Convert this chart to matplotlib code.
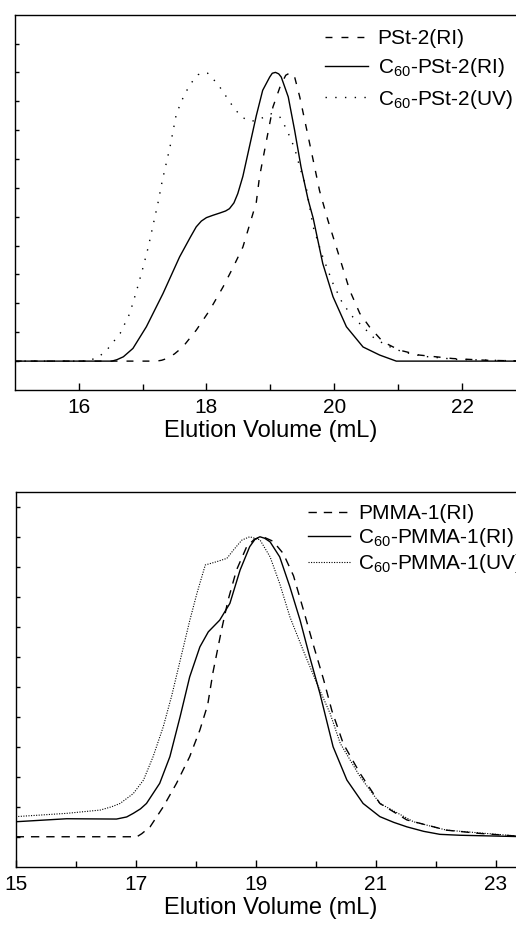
import numpy as np
import matplotlib
matplotlib.use("Agg")
import matplotlib.pyplot as plt

plt.rcParams['font.family'] = ['Liberation Sans', 'DejaVu Sans']
plt.rcParams['mathtext.fontset'] = 'custom'
plt.rcParams['mathtext.rm'] = 'Liberation Sans'
plt.rcParams['mathtext.it'] = 'Liberation Sans:italic'

# ---- top panel: PSt-2 -------------------------------------------------------
pst_x = [15.0, 17.22, 17.3, 17.38, 17.5, 17.63, 17.84, 18.05, 18.26, 18.42,
         18.57, 18.68, 18.78, 18.83, 18.94, 19.04, 19.15, 19.24, 19.32, 19.38,
         19.46, 19.56, 19.67, 19.77, 19.90, 20.08, 20.24, 20.40, 20.55, 20.76,
         21.02, 21.33, 21.85, 22.37, 23.0]
pst_y = [0, 0, 0.03, 0.09, 0.25, 0.49, 1.07, 1.76, 2.57, 3.26,
         3.95, 4.76, 5.5, 6.38, 7.65, 8.8, 9.49, 9.9, 10.0, 9.84,
         9.15, 8.11, 6.96, 5.9, 4.88, 3.61, 2.46, 1.65, 1.19, 0.67,
         0.38, 0.21, 0.09, 0.03, 0]

c60pst_ri_x = [15.0, 16.52, 16.6, 16.7, 16.85, 17.06, 17.32, 17.58, 17.75, 17.84,
               17.92, 18.0, 18.1, 18.21, 18.3, 18.36, 18.43, 18.49, 18.57, 18.68,
               18.78, 18.88, 18.99, 19.03, 19.08, 19.13, 19.17, 19.28, 19.38, 19.48,
               19.59, 19.67, 19.82, 19.98, 20.19, 20.45, 20.71, 20.97, 23.0]
c60pst_ri_y = [0, 0, 0.05, 0.15, 0.44, 1.19, 2.34, 3.61, 4.3, 4.65,
               4.85, 4.97, 5.05, 5.13, 5.2, 5.28, 5.48, 5.8, 6.4, 7.5,
               8.5, 9.38, 9.84, 9.97, 10.0, 9.95, 9.84, 9.15, 7.99, 6.72,
               5.6, 4.95, 3.38, 2.23, 1.19, 0.49, 0.21, 0, 0]

c60pst_uv_x = [15.0, 16.12, 16.3, 16.44, 16.65, 16.80, 16.91, 17.01, 17.09, 17.17,
               17.24, 17.31, 17.43, 17.53, 17.66, 17.79, 17.87, 17.95, 18.02, 18.08,
               18.21, 18.42, 18.55, 18.70, 18.85, 19.02, 19.15, 19.25, 19.38, 19.46,
               19.56, 19.67, 19.82, 19.98, 20.13, 20.29, 20.45, 20.60, 20.81, 21.07,
               21.38, 21.91, 23.0]
c60pst_uv_y = [0, 0, 0.12, 0.38, 0.96, 1.65, 2.46, 3.26, 3.95, 4.76,
               5.46, 6.26, 7.42, 8.57, 9.26, 9.72, 9.92, 10.0, 9.97, 9.84,
               9.49, 8.8, 8.45, 8.3, 8.4, 8.57, 8.45, 8.05, 7.37, 6.72,
               6.03, 4.65, 3.61, 2.69, 2.0, 1.53, 1.19, 0.84, 0.55, 0.32,
               0.17, 0.06, 0]

# ---- bottom panel: PMMA-1 ---------------------------------------------------
pmma_x = [15.0, 17.02, 17.1, 17.24, 17.46, 17.68, 17.9, 18.07, 18.2, 18.29,
          18.43, 18.54, 18.68, 18.85, 18.98, 19.12, 19.29, 19.46, 19.63, 19.79,
          19.96, 20.13, 20.27, 20.46, 20.74, 21.07, 21.52, 22.18, 22.74, 23.5]
pmma_y = [0, 0, 0.1, 0.33, 1.0, 1.78, 2.67, 3.56, 4.4, 5.5,
          6.89, 7.89, 8.89, 9.67, 9.92, 10.0, 9.85, 9.44, 8.7, 7.6,
          6.4, 5.25, 4.2, 3.1, 2.11, 1.11, 0.56, 0.22, 0.11, 0]

c60pmma_ri_x = [15.0, 15.85, 16.68, 16.85, 16.96, 17.08, 17.18, 17.4, 17.57, 17.74,
                17.9, 18.07, 18.21, 18.4, 18.57, 18.74, 18.9, 18.99, 19.07, 19.15,
                19.24, 19.4, 19.57, 19.74, 19.9, 20.07, 20.29, 20.52, 20.79, 21.07,
                21.3, 21.52, 21.8, 22.07, 22.4, 23.5]
c60pmma_ri_y = [0.5, 0.6, 0.59, 0.66, 0.78, 0.93, 1.11, 1.78, 2.67, 4.0,
                5.33, 6.33, 6.83, 7.22, 7.78, 8.89, 9.67, 9.92, 10.0, 9.95,
                9.83, 9.33, 8.33, 7.22, 6.0, 4.78, 3.0, 1.89, 1.11, 0.67,
                0.48, 0.33, 0.18, 0.08, 0.05, 0.0]

c60pmma_uv_x = [15.0, 15.85, 16.41, 16.6, 16.74, 16.96, 17.13, 17.29, 17.46, 17.6,
                17.75, 17.9, 18.02, 18.16, 18.35, 18.52, 18.63, 18.77, 18.9, 19.07,
                19.24, 19.4, 19.57, 19.79, 20.02, 20.24, 20.41, 20.74, 21.07, 21.63,
                22.18, 23.5]
c60pmma_uv_y = [0.67, 0.78, 0.89, 1.0, 1.11, 1.44, 1.89, 2.67, 3.67, 4.7,
                5.95, 7.2, 8.11, 9.06, 9.17, 9.28, 9.56, 9.89, 10.0, 9.9,
                9.33, 8.44, 7.33, 6.22, 5.11, 4.11, 3.11, 2.0, 1.11, 0.5,
                0.22, 0.0]


def style(ax, xmajor, xminor):
    ax.set_xticks(xmajor)
    ax.set_xticks(xminor, minor=True)
    ax.set_yticks(np.arange(0, 12))
    ax.set_yticklabels([])
    ax.tick_params(axis='x', which='major', direction='in', length=5, width=1,
                   labelsize=15, pad=6, top=False)
    ax.tick_params(axis='x', which='minor', direction='in', length=4, width=1,
                   top=False)
    ax.tick_params(axis='y', direction='in', length=3, width=1, right=False)
    for s in ax.spines.values():
        s.set_linewidth(1.0)
    ax.set_xlabel("Elution Volume (mL)", fontsize=17, labelpad=2)


fig = plt.figure(figsize=(5.16, 9.27), dpi=100, facecolor="w")

ax = fig.add_axes([0.0285, 0.5793, 0.9909, 0.4049])
ax.plot(pst_x, pst_y, c='k', lw=1.0, dashes=(5, 6.5), label='PSt-2(RI)')
ax.plot(c60pst_ri_x, c60pst_ri_y, c='k', lw=1.0, label='C$_{60}$-PSt-2(RI)')
ax.plot(c60pst_uv_x, c60pst_uv_y, c='k', lw=1.0, dashes=(1, 6),
        label='C$_{60}$-PSt-2(UV)')
ax.set_xlim(15, 23)
ax.set_ylim(-1, 12)
style(ax, [16, 18, 20, 22], [17, 19, 21])
ax.legend(loc='upper left', bbox_to_anchor=(0.607, 0.962), frameon=False,
          fontsize=15, handlelength=2.07, handletextpad=0.45,
          borderpad=0, borderaxespad=0, labelspacing=0.4)

ax = fig.add_axes([0.0304, 0.0650, 0.9884, 0.4045])
ax.plot(pmma_x, pmma_y, c='k', lw=1.0, dashes=(6, 5), label='PMMA-1(RI)')
ax.plot(c60pmma_ri_x, c60pmma_ri_y, c='k', lw=1.0, label='C$_{60}$-PMMA-1(RI)')
ax.plot(c60pmma_uv_x, c60pmma_uv_y, c='k', lw=0.8, dashes=(1, 1.3),
        label='C$_{60}$-PMMA-1(UV)')
ax.set_xlim(15, 23.5)
ax.set_ylim(-1, 11.5)
style(ax, [15, 17, 19, 21, 23], [16, 18, 20, 22])
ax.legend(loc='upper left', bbox_to_anchor=(0.573, 0.967), frameon=False,
          fontsize=15, handlelength=2.0, handletextpad=0.4,
          borderpad=0, borderaxespad=0, labelspacing=0.15)

plt.savefig("out.png", dpi=100)
